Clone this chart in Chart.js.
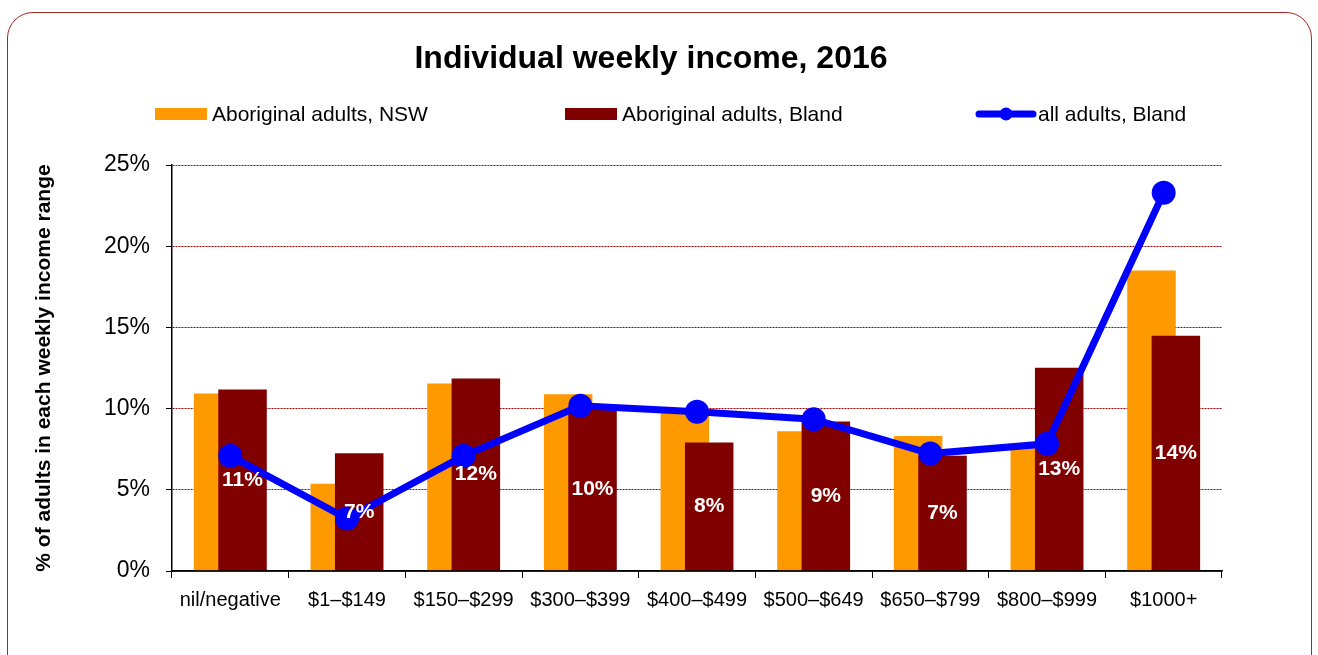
<!DOCTYPE html>
<html>
<head>
<meta charset="utf-8">
<script src="https://cdn.jsdelivr.net/npm/chart.js@4.4.0/dist/chart.umd.min.js"></script>
<style>
  html, body { margin: 0; padding: 0; background: #fff; overflow: hidden; }
  #frame {
    position: absolute; left: 7px; top: 12px; width: 1303px; height: 720px;
    border: 1.5px solid #a3282a; border-radius: 26px;
  }
  #incomeChart { position: absolute; left: 0; top: 0; }
</style>
</head>
<body>
<div id="frame"></div>
<canvas id="incomeChart" width="1318" height="655"></canvas>
<script>
const chartTitle = 'Individual weekly income, 2016';
const yAxisTitle = '% of adults in each weekly income range';
const incomeBands = ['nil/negative', '$1–$149', '$150–$299', '$300–$399', '$400–$499', '$500–$649', '$650–$799', '$800–$999', '$1000+'];
const seriesNames = ['Aboriginal adults, NSW', 'Aboriginal adults, Bland', 'all adults, Bland'];
const nswValues = [10.93, 5.38, 11.55, 10.89, 9.8, 8.61, 8.32, 7.6, 18.51];
const blandValues = [11.18, 7.25, 11.85, 10.1, 7.91, 9.2, 7.1, 12.51, 14.48];
const allBlandValues = [7.09, 3.23, 7.09, 10.17, 9.8, 9.35, 7.23, 7.83, 23.29];
const yTicks = [0, 5, 10, 15, 20, 25];

const ORANGE = '#ff9900';
const MAROON = '#800000';
const BLUE = '#0000ff';
const FONT = "'Liberation Sans', Arial, sans-serif";

Chart.defaults.font.family = FONT;

window.onload = function() {
    // orange bars sit behind the maroon ones, so draw them first
    const orangeUnderPlugin = {
        id: 'orangeUnder',
        beforeDatasetsDraw: function(chart) {
            chart.getDatasetMeta(0).controller.draw();
        },
        beforeDatasetDraw: function(chart, args) {
            if (args.index === 0) return false;
        }
    };

    const barLabelPlugin = {
        id: 'barLabels',
        afterDatasetsDraw: function(chart) {
            const ctx = chart.ctx;
            const area = chart.chartArea;
            ctx.save();
            // keep the x axis line on top of the bars
            ctx.strokeStyle = '#000';
            ctx.lineWidth = 1.5;
            ctx.beginPath();
            ctx.moveTo(area.left, area.bottom);
            ctx.lineTo(area.right, area.bottom);
            ctx.stroke();

            const meta = chart.getDatasetMeta(1);
            ctx.fillStyle = '#fff';
            ctx.font = 'bold 21px ' + FONT;
            ctx.textAlign = 'center';
            ctx.textBaseline = 'middle';
            meta.data.forEach((bar, i) => {
                ctx.fillText(Math.round(blandValues[i]) + '%', bar.x, (bar.y + bar.base) / 2);
            });
            ctx.restore();
        }
    };

    const headerPlugin = {
        id: 'header',
        afterDraw: function(chart) {
            const ctx = chart.ctx;
            ctx.save();
            ctx.fillStyle = '#000';
            ctx.textAlign = 'center';
            ctx.textBaseline = 'alphabetic';
            ctx.font = 'bold 32px ' + FONT;
            ctx.fillText(chartTitle, 651, 68);

            // legend
            const legendX = [155, 565, 976];
            ctx.font = '21px ' + FONT;
            ctx.textAlign = 'left';
            legendX.forEach((x, i) => {
                if (i < 2) {
                    ctx.fillStyle = i === 0 ? ORANGE : MAROON;
                    ctx.fillRect(x, 108, 52, 12);
                    ctx.fillStyle = '#000';
                    ctx.fillText(seriesNames[i], x + 57, 121);
                } else {
                    ctx.strokeStyle = BLUE;
                    ctx.lineWidth = 7;
                    ctx.lineCap = 'round';
                    ctx.beginPath();
                    ctx.moveTo(x + 3, 114);
                    ctx.lineTo(x + 57, 114);
                    ctx.stroke();
                    ctx.fillStyle = BLUE;
                    ctx.beginPath();
                    ctx.arc(x + 30, 114, 6.5, 0, Math.PI * 2);
                    ctx.fill();
                    ctx.fillStyle = '#000';
                    ctx.fillText(seriesNames[i], x + 62, 121);
                }
            });
            ctx.restore();
        }
    };

    const incomeCtx = document.getElementById('incomeChart').getContext('2d');
    const incomeChart = new Chart(incomeCtx, {
        type: 'bar',
        data: {
            labels: incomeBands,
            datasets: [{
                label: seriesNames[0],
                data: nswValues,
                backgroundColor: ORANGE,
                borderWidth: 0,
                categoryPercentage: 0.418,
                barPercentage: 1.99
            }, {
                label: seriesNames[1],
                data: blandValues,
                backgroundColor: MAROON,
                borderWidth: 0,
                categoryPercentage: 0.418,
                barPercentage: 1.99
            }, {
                type: 'line',
                label: seriesNames[2],
                data: allBlandValues,
                order: -1,
                borderColor: BLUE,
                backgroundColor: BLUE,
                borderWidth: 7,
                pointRadius: 12,
                pointBackgroundColor: BLUE,
                pointBorderWidth: 0,
                tension: 0
            }]
        },
        options: {
            responsive: false,
            animation: false,
            layout: { padding: { left: 28, top: 165, right: 96, bottom: 20 } },
            plugins: {
                legend: { display: false },
                title: { display: false },
                tooltip: { enabled: false }
            },
            scales: {
                x: {
                    offset: true,
                    grid: { offset: true, drawOnChartArea: false, tickLength: 7, tickColor: '#000', tickWidth: 1 },
                    border: { color: '#000', width: 1.5 },
                    ticks: { color: '#000', font: { size: 20 }, padding: 10, maxRotation: 0, autoSkip: false },
                    afterFit: function(scale) { scale.height = 64; }
                },
                y: {
                    min: 0,
                    max: 25,
                    afterBuildTicks: function(scale) {
                        scale.ticks = yTicks.map(v => ({ value: v }));
                    },
                    ticks: {
                        color: '#000',
                        font: { size: 23 },
                        padding: 16,
                        callback: function(value) { return value + '%'; }
                    },
                    grid: {
                        color: function(c) { return c.tick && c.tick.value === 0 ? 'rgba(0,0,0,0)' : '#a00000'; },
                        lineWidth: 1,
                        tickColor: '#000',
                        tickLength: 6
                    },
                    border: { color: '#000', width: 1.5, dash: [2, 1] },
                    title: {
                        display: true,
                        text: yAxisTitle,
                        color: '#000',
                        font: { size: 21, weight: 'bold' },
                        padding: { top: 4, bottom: 0 }
                    },
                    afterFit: function(scale) { scale.width = 144; }
                }
            }
        },
        plugins: [orangeUnderPlugin, barLabelPlugin, headerPlugin]
    });
};
</script>
</body>
</html>
